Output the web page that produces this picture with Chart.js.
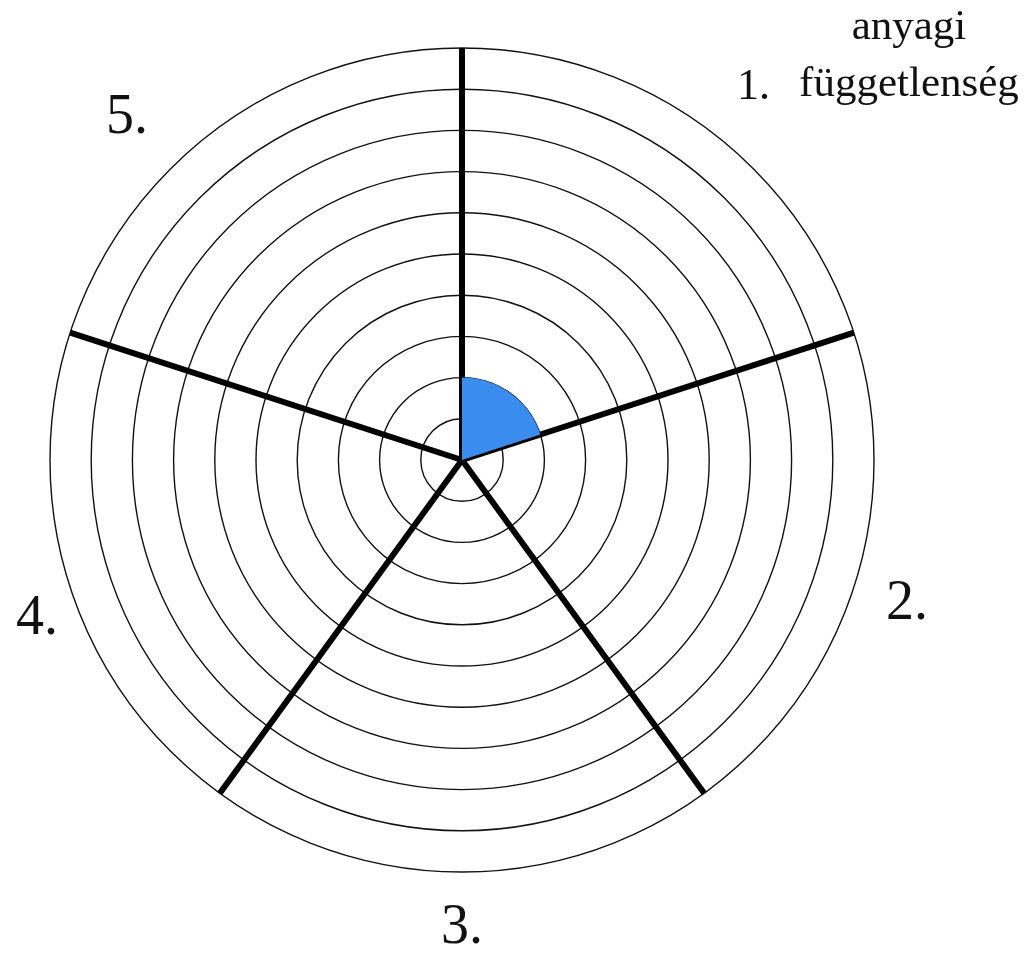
<!DOCTYPE html>
<html>
<head>
<meta charset="utf-8">
<script src="https://cdn.jsdelivr.net/npm/chart.js@4/dist/chart.umd.min.js"></script>
<style>
  html, body { margin: 0; padding: 0; background: #ffffff; }
  #c { display: block; }
</style>
</head>
<body>
<canvas id="c" width="1033" height="955"></canvas>
<script>
// ---- data ----
const categories = ['1.', '2.', '3.', '4.', '5.'];
const categoryNotes = [['anyagi', 'függetlenség'], [], [], [], []];
const values = [2, 0, 0, 0, 0];
const scaleMax = 10;
const scaleStep = 1;

// ---- label styling (fine offsets in px) ----
const labelNudge = [[0, 0], [0, 0], [0, 0], [20, 15], [-60, 37]];

const labelPlugin = {
  id: 'sectorLabels',
  afterDraw(chart) {
    const s = chart.scales.r;
    const ctx = chart.ctx;
    const n = categories.length;
    const step = 2 * Math.PI / n;
    ctx.save();
    ctx.fillStyle = '#111';
    categories.forEach((lab, i) => {
      const a = s.getIndexAngle(i) + step / 2 - Math.PI / 2;
      const d = s.drawingArea + 56;
      const x = s.xCenter + Math.cos(a) * d + labelNudge[i][0];
      const y = s.yCenter + Math.sin(a) * d + labelNudge[i][1];
      const notes = categoryNotes[i];
      if (notes.length) {
        ctx.font = '44px "Liberation Serif"';
        ctx.textAlign = 'left';
        ctx.textBaseline = 'alphabetic';
        const nx = x;
        const ny = y + 18;
        ctx.fillText(lab, nx, ny);
        ctx.font = '43px "Liberation Serif"';
        const lx2 = nx + 62;
        const w2 = ctx.measureText(notes[1]).width;
        ctx.fillText(notes[1], lx2, ny - 3);
        ctx.textAlign = 'center';
        ctx.fillText(notes[0], lx2 + w2 / 2, ny - 60);
      } else {
        ctx.font = '56px "Liberation Serif"';
        ctx.textAlign = 'center';
        ctx.textBaseline = 'middle';
        ctx.fillText(lab, x, y);
      }
    });
    ctx.restore();
  }
};

new Chart(document.getElementById('c'), {
  type: 'polarArea',
  data: {
    labels: categories,
    datasets: [{
      data: values,
      backgroundColor: '#3a8dee',
      borderWidth: 0
    }]
  },
  options: {
    responsive: false,
    animation: false,
    layout: { padding: { left: 50, top: 48, right: 159, bottom: 83 } },
    plugins: { legend: { display: false }, tooltip: { enabled: false } },
    scales: {
      r: {
        z: 1,
        min: 0,
        max: scaleMax,
        ticks: { display: false, stepSize: scaleStep },
        grid: { circular: true, color: '#111', lineWidth: 1.4 },
        angleLines: { display: true, color: '#000', lineWidth: 6 },
        pointLabels: { display: false }
      }
    }
  },
  plugins: [labelPlugin]
});
</script>
</body>
</html>
